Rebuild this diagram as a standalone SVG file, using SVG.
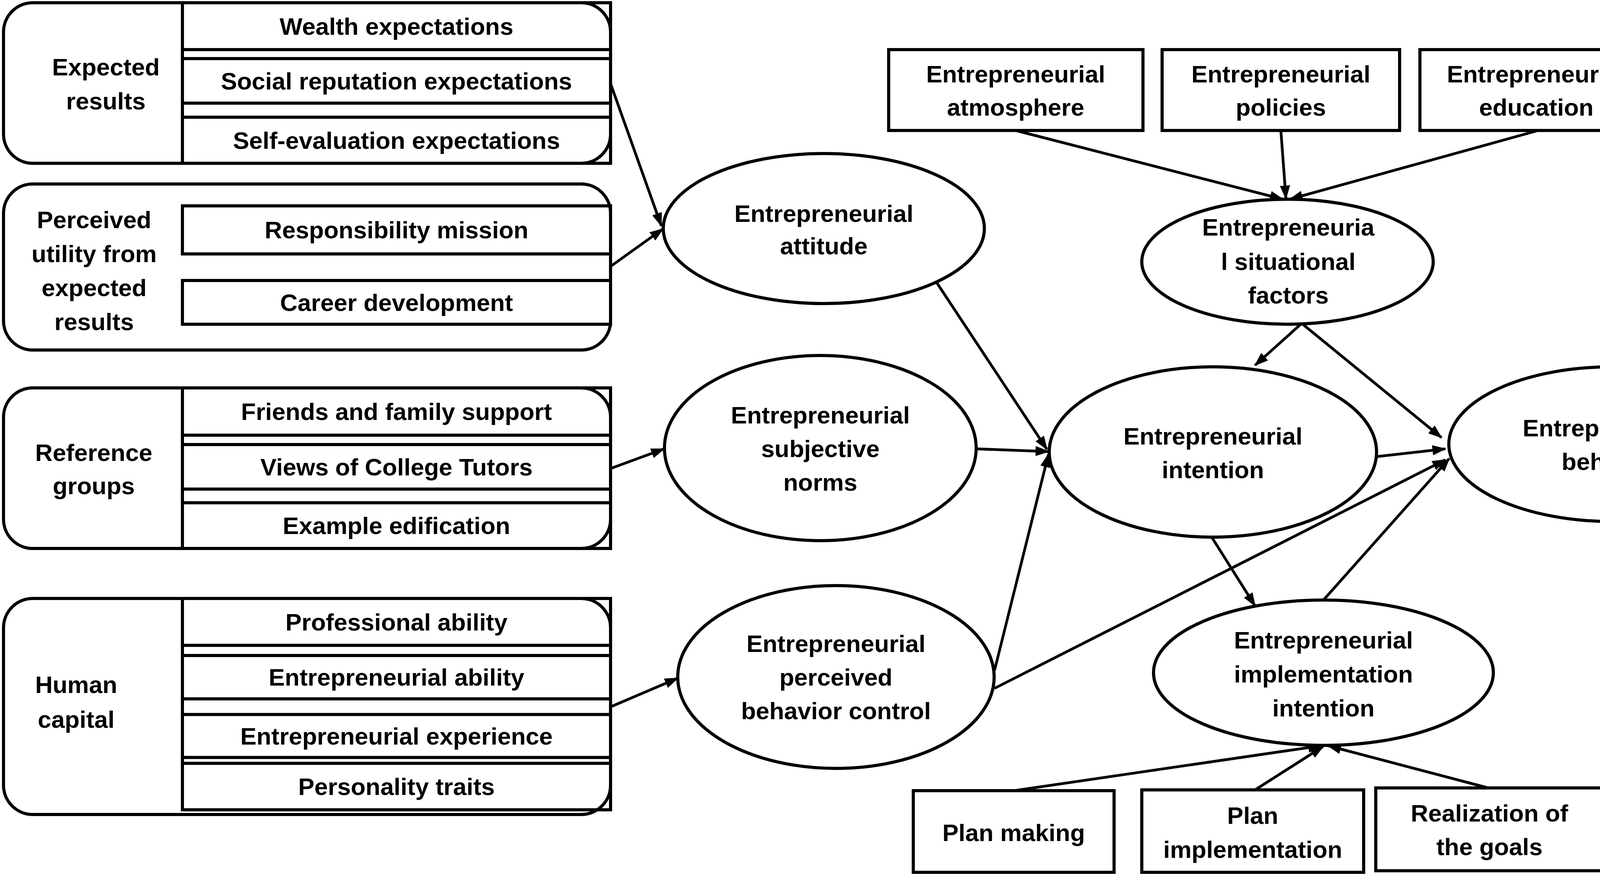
<svg xmlns="http://www.w3.org/2000/svg" width="4562" height="2245" viewBox="0 0 4562 2245">
<style>
  .t { font-family: "Liberation Sans", Arial, sans-serif; font-weight: bold; font-size: 62px; fill: #000; text-anchor: middle; }
  .s { fill: #fff; stroke: #000; stroke-width: 8; }
  .ln { fill: none; stroke: #000; stroke-width: 8; }
  .c { fill: none; stroke: #000; stroke-width: 7; marker-end: url(#arr); }
</style>
<defs>
  <marker id="arr" markerUnits="userSpaceOnUse" markerWidth="36" markerHeight="26" viewBox="0 0 36 26" refX="33" refY="13" orient="auto">
    <path d="M0,0 L36,13 L0,26 z" fill="#000"/>
  </marker>
</defs>
<rect width="4562" height="2245" fill="#fff"/>

<!-- Left group 1: Expected results -->
<g id="g-expected-results">
  <rect class="s" x="467" y="7" width="1096" height="120"/>
  <rect class="s" x="467" y="150" width="1096" height="114"/>
  <rect class="s" x="467" y="300" width="1096" height="118"/>
  <rect class="ln" x="9" y="7" width="1554" height="411" rx="75" ry="75"/>
  <line class="ln" x1="467" y1="7" x2="467" y2="418"/>
  <text class="t" x="271" y="193">Expected</text>
  <text class="t" x="271" y="280">results</text>
  <text class="t" x="1015" y="89">Wealth expectations</text>
  <text class="t" x="1015" y="229">Social reputation expectations</text>
  <text class="t" x="1015" y="381">Self-evaluation expectations</text>
</g>

<!-- Left group 2: Perceived utility -->
<g id="g-perceived-utility">
  <rect class="s" x="467" y="527" width="1096" height="123"/>
  <rect class="s" x="467" y="718" width="1096" height="112"/>
  <rect class="ln" x="9" y="471" width="1554" height="425" rx="75" ry="75"/>
  <text class="t" x="241" y="584">Perceived</text>
  <text class="t" x="241" y="671">utility from</text>
  <text class="t" x="241" y="758">expected</text>
  <text class="t" x="241" y="845">results</text>
  <text class="t" x="1015" y="610">Responsibility mission</text>
  <text class="t" x="1015" y="796">Career development</text>
</g>

<!-- Left group 3: Reference groups -->
<g id="g-reference-groups">
  <rect class="s" x="467" y="993" width="1096" height="121"/>
  <rect class="s" x="467" y="1138" width="1096" height="114"/>
  <rect class="s" x="467" y="1287" width="1096" height="117"/>
  <rect class="ln" x="9" y="993" width="1554" height="411" rx="75" ry="75"/>
  <line class="ln" x1="467" y1="993" x2="467" y2="1404"/>
  <text class="t" x="240" y="1180">Reference</text>
  <text class="t" x="240" y="1265">groups</text>
  <text class="t" x="1015" y="1075">Friends and family support</text>
  <text class="t" x="1015" y="1217">Views of College Tutors</text>
  <text class="t" x="1015" y="1367">Example edification</text>
</g>

<!-- Left group 4: Human capital -->
<g id="g-human-capital">
  <rect class="s" x="467" y="1532" width="1096" height="120"/>
  <rect class="s" x="467" y="1678" width="1096" height="111"/>
  <rect class="s" x="467" y="1829" width="1096" height="110"/>
  <rect class="s" x="467" y="1954" width="1096" height="119"/>
  <rect class="ln" x="9" y="1532" width="1554" height="553" rx="75" ry="75"/>
  <line class="ln" x1="467" y1="1532" x2="467" y2="2073"/>
  <text class="t" x="195" y="1774">Human</text>
  <text class="t" x="195" y="1863">capital</text>
  <text class="t" x="1015" y="1614">Professional ability</text>
  <text class="t" x="1015" y="1755">Entrepreneurial ability</text>
  <text class="t" x="1015" y="1906">Entrepreneurial experience</text>
  <text class="t" x="1015" y="2035">Personality traits</text>
</g>

<!-- Connectors -->
<g id="connectors">
  <line class="c" x1="1563" y1="214" x2="1693" y2="578"/>
  <line class="c" x1="1563" y1="682" x2="1697" y2="586"/>
  <line class="c" x1="1564" y1="1199" x2="1700" y2="1149"/>
  <line class="c" x1="1564" y1="1809" x2="1735" y2="1736"/>
  <line class="c" x1="2600" y1="334" x2="3284" y2="510"/>
  <line class="c" x1="3279" y1="334" x2="3292" y2="508"/>
  <line class="c" x1="3934" y1="335" x2="3302" y2="510"/>
  <line class="c" x1="3330" y1="830" x2="3213" y2="935"/>
  <line class="c" x1="3335" y1="830" x2="3690" y2="1120"/>
  <line class="c" x1="2399" y1="725" x2="2680" y2="1150"/>
  <line class="c" x1="2499" y1="1149" x2="2684" y2="1156"/>
  <line class="c" x1="2546" y1="1716" x2="2684" y2="1163"/>
  <line class="c" x1="2546" y1="1762" x2="3700" y2="1177"/>
  <line class="c" x1="3523" y1="1169" x2="3700" y2="1149"/>
  <line class="c" x1="3102" y1="1375" x2="3213" y2="1551"/>
  <line class="c" x1="3389" y1="1535" x2="3710" y2="1174"/>
  <line class="c" x1="2596" y1="2024" x2="3382" y2="1909"/>
  <line class="c" x1="3213" y1="2022" x2="3387" y2="1911"/>
  <line class="c" x1="3810" y1="2017" x2="3400" y2="1909"/>
</g>

<!-- Ellipse nodes -->
<g id="n-attitude">
  <ellipse class="s" cx="2109" cy="585" rx="411" ry="192"/>
  <text class="t" x="2109" y="568">Entrepreneurial</text>
  <text class="t" x="2109" y="651">attitude</text>
</g>
<g id="n-norms">
  <ellipse class="s" cx="2100" cy="1147" rx="399" ry="237"/>
  <text class="t" x="2100" y="1084">Entrepreneurial</text>
  <text class="t" x="2100" y="1170">subjective</text>
  <text class="t" x="2100" y="1256">norms</text>
</g>
<g id="n-pbc">
  <ellipse class="s" cx="2140" cy="1733" rx="405" ry="234"/>
  <text class="t" x="2140" y="1669">Entrepreneurial</text>
  <text class="t" x="2140" y="1755">perceived</text>
  <text class="t" x="2140" y="1841">behavior control</text>
</g>
<g id="n-situational">
  <ellipse class="s" cx="3296" cy="670" rx="373" ry="160"/>
  <text class="t" x="3298" y="603">Entrepreneuria</text>
  <text class="t" x="3298" y="691">l situational</text>
  <text class="t" x="3298" y="777">factors</text>
</g>
<g id="n-intention">
  <ellipse class="s" cx="3105" cy="1157" rx="419" ry="218"/>
  <text class="t" x="3105" y="1138">Entrepreneurial</text>
  <text class="t" x="3105" y="1224">intention</text>
</g>
<g id="n-behavior">
  <ellipse class="s" cx="4127" cy="1137" rx="418" ry="198"/>
  <text class="t" x="4127" y="1117">Entrepreneurial</text>
  <text class="t" x="4127" y="1203">behavior</text>
</g>
<g id="n-implementation">
  <ellipse class="s" cx="3388" cy="1722" rx="435" ry="186"/>
  <text class="t" x="3388" y="1660">Entrepreneurial</text>
  <text class="t" x="3388" y="1747">implementation</text>
  <text class="t" x="3388" y="1834">intention</text>
</g>

<!-- Top boxes -->
<g id="n-atmosphere">
  <rect class="s" x="2275" y="127" width="651" height="207"/>
  <text class="t" x="2600" y="211">Entrepreneurial</text>
  <text class="t" x="2600" y="296">atmosphere</text>
</g>
<g id="n-policies">
  <rect class="s" x="2975" y="127" width="608" height="207"/>
  <text class="t" x="3279" y="211">Entrepreneurial</text>
  <text class="t" x="3279" y="296">policies</text>
</g>
<g id="n-education">
  <rect class="s" x="3635" y="127" width="596" height="207"/>
  <text class="t" x="3933" y="211">Entrepreneurial</text>
  <text class="t" x="3933" y="296">education</text>
</g>

<!-- Bottom boxes -->
<g id="n-plan-making">
  <rect class="s" x="2338" y="2024" width="514" height="209"/>
  <text class="t" x="2595" y="2153">Plan making</text>
</g>
<g id="n-plan-implementation">
  <rect class="s" x="2923" y="2022" width="568" height="211"/>
  <text class="t" x="3207" y="2109">Plan</text>
  <text class="t" x="3207" y="2196">implementation</text>
</g>
<g id="n-realization">
  <rect class="s" x="3522" y="2017" width="582" height="212"/>
  <text class="t" x="3813" y="2103">Realization of</text>
  <text class="t" x="3813" y="2189">the goals</text>
</g>
</svg>
